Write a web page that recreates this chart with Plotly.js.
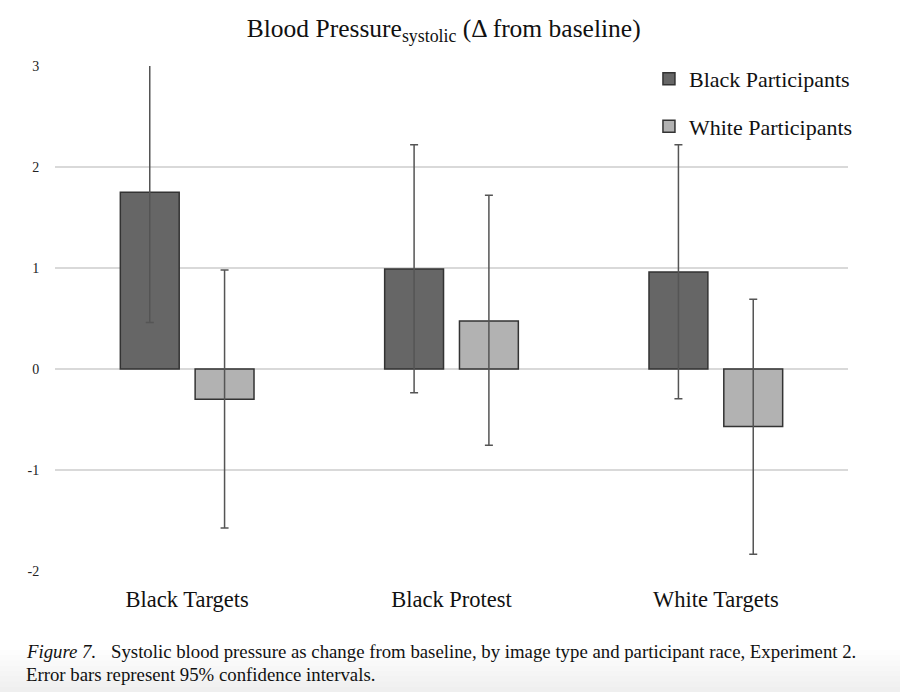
<!DOCTYPE html>
<html>
<head>
<meta charset="utf-8">
<script src="https://cdn.plot.ly/plotly-3.0.1.min.js"></script>
<style>
  html, body { margin: 0; padding: 0; background: #ffffff; }
  #chart { width: 900px; height: 692px; }
</style>
</head>
<body>
<div id="chart"></div>
<script>
// ---- data ----
var categories = ["Black Targets", "Black Protest", "White Targets"];
var blackMeans = [1.75, 0.99, 0.96];
var blackErrPlus = [1.29, 1.23, 1.26];
var blackErrMinus = [1.29, 1.225, 1.255];
var whiteMeans = [-0.30, 0.475, -0.57];
var whiteErrPlus = [1.28, 1.245, 1.26];
var whiteErrMinus = [1.275, 1.23, 1.265];
var seriesNames = ["Black Participants", "White Participants"];
var yTickVals = [-2, -1, 0, 1, 2, 3];
var yTickText = ["-2", "-1", "0", "1", "2", "3"];

var serif = "Liberation Serif, Times New Roman, serif";

var traceBlack = {
  type: "bar",
  name: seriesNames[0],
  legendgroup: "b",
  x: categories,
  y: blackMeans,
  marker: { color: "#666666", line: { color: "#333333", width: 1.5 } },
  error_y: { type: "data", symmetric: false, array: blackErrPlus, arrayminus: blackErrMinus,
             color: "#555555", thickness: 1.5, width: 4 }
};
var traceWhite = {
  type: "bar",
  name: seriesNames[1],
  legendgroup: "w",
  x: categories,
  y: whiteMeans,
  marker: { color: "#b2b2b2", line: { color: "#333333", width: 1.5 } },
  error_y: { type: "data", symmetric: false, array: whiteErrPlus, arrayminus: whiteErrMinus,
             color: "#555555", thickness: 1.5, width: 4 }
};

// bottom gradient approximation
var shapes = [];
var steps = 8;
for (var i = 0; i < steps; i++) {
  shapes.push({
    type: "rect", xref: "paper", yref: "paper", layer: "below",
    x0: -0.1, x1: 1.1,
    y0: -121 / 505,
    y1: (-121 + 42 - i * 42 / steps) / 505,
    fillcolor: "rgba(200,200,200,0.045)", line: { width: 0 }
  });
}

var layout = {
  width: 900, height: 692,
  margin: { l: 55, r: 52, t: 66, b: 121 },
  paper_bgcolor: "#ffffff",
  plot_bgcolor: "rgba(0,0,0,0)",
  font: { family: serif, color: "#111111" },
  title: {
    text: "Blood Pressure<sub>systolic</sub> (Δ from baseline)",
    font: { family: serif, size: 25.5, color: "#111111" },
    xref: "container", x: 0.493, xanchor: "center",
    yref: "container", y: 0.960, yanchor: "middle"
  },
  barmode: "group",
  bargap: 0.434,
  bargroupgap: 0.213,
  xaxis: {
    showgrid: false, zeroline: false, showline: false,
    ticks: "outside", ticklen: 8, tickcolor: "rgba(0,0,0,0)",
    tickfont: { family: serif, size: 22.5, color: "#111111" }
  },
  yaxis: {
    range: [-2, 3], tickvals: yTickVals, ticktext: yTickText,
    showgrid: true, gridcolor: "#d9d9d9", gridwidth: 1.5,
    zeroline: false, showline: false,
    ticks: "outside", ticklen: 12, tickcolor: "rgba(0,0,0,0)",
    tickfont: { family: serif, size: 14, color: "#222222" }
  },
  showlegend: true,
  legend: {
    x: 0.749, xanchor: "left", y: 1.016, yanchor: "top",
    bgcolor: "rgba(0,0,0,0)",
    font: { family: serif, size: 22, color: "#111111" },
    tracegroupgap: 16, itemclick: false
  },
  shapes: shapes,
  annotations: [
    {
      xref: "paper", yref: "paper", x: -31 / 793, y: -0.160, xanchor: "left", yanchor: "middle",
      text: "<i>Figure 7.</i>",
      showarrow: false, font: { family: serif, size: 18.8, color: "#111111" }
    },
    {
      xref: "paper", yref: "paper", x: 54 / 793, y: -0.160, xanchor: "left", yanchor: "middle",
      text: "Systolic blood pressure as change from baseline, by image type and participant race, Experiment 2.",
      showarrow: false, font: { family: serif, size: 18.8, color: "#111111" }
    },
    {
      xref: "paper", yref: "paper", x: -31 / 793, y: -0.204, xanchor: "left", yanchor: "middle",
      text: "Error bars represent 95% confidence intervals.",
      showarrow: false, font: { family: serif, size: 18.8, color: "#111111" }
    }
  ]
};

Plotly.newPlot("chart", [traceBlack, traceWhite], layout, { displayModeBar: false, staticPlot: true });
</script>
</body>
</html>
